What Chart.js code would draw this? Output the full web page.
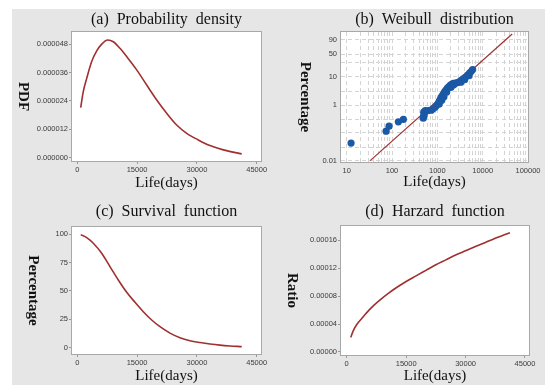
<!DOCTYPE html>
<html>
<head>
<meta charset="utf-8">
<script src="https://cdn.jsdelivr.net/npm/chart.js@4.4.0/dist/chart.umd.min.js"></script>
<style>
body { margin: 0; background: #fff; width: 545px; height: 385px; overflow: hidden; position: relative; }
#bg { position: absolute; left: 12px; top: 9px; width: 533px; height: 376px; background: #e6e6e6; }
canvas { position: absolute; }
</style>
</head>
<body>
<div id="bg"></div>
<canvas id="pdfChart" width="260" height="188" style="left:12px;top:9px"></canvas>
<canvas id="weibullChart" width="273" height="188" style="left:272px;top:9px"></canvas>
<canvas id="survivalChart" width="260" height="188" style="left:12px;top:197px"></canvas>
<canvas id="hazardChart" width="273" height="188" style="left:272px;top:197px"></canvas>
<script>
// values
const lifeTicks = [0, 15000, 30000, 45000];

const pdfDays = [850, 1500, 2360, 3610, 4870, 6120, 7620, 9030, 10710, 12390, 14900, 17410, 19920, 22420, 24930, 27440, 30350, 33280, 36620, 41240];
const pdfValues = [0.0000211, 0.0000279, 0.0000335, 0.0000406, 0.0000451, 0.0000480, 0.0000497, 0.0000490, 0.0000462, 0.0000427, 0.0000371, 0.0000307, 0.0000244, 0.0000188, 0.0000138, 0.0000103, 0.0000075, 0.0000051, 0.0000033, 0.0000016];
const pdfTicks = [0, 0.000012, 0.000024, 0.000036, 0.000048];

const survivalDays = [850, 2360, 4010, 6120, 8200, 10280, 12390, 14470, 16560, 18660, 20740, 23250, 25760, 28270, 30780, 33280, 35790, 38300, 41240];
const survivalPct = [99.5, 96.8, 91.9, 83.1, 71.3, 59.6, 48.8, 40.0, 31.7, 24.4, 18.5, 12.9, 8.8, 6.2, 4.6, 3.3, 2.3, 1.6, 1.0];
const survivalTicks = [0, 25, 50, 75, 100];

const hazardDays = [1010, 1700, 2500, 3800, 5000, 6700, 8500, 10500, 12500, 15000, 17500, 20000, 22500, 25000, 27500, 30000, 32500, 35000, 37500, 41200];
const hazardValues = [0.000021, 0.000031, 0.000039, 0.000048, 0.000056, 0.000066, 0.000075, 0.000084, 0.000092, 0.000101, 0.000109, 0.000117, 0.000125, 0.000132, 0.000139, 0.000145, 0.000151, 0.000157, 0.000163, 0.000171];
const hazardTicks = [0, 0.00004, 0.00008, 0.00012, 0.00016];

// weibull probability plot (failures)
const weibullDays = [12.5, 74, 86, 138, 178, 489, 501, 514, 501, 541, 631, 736, 815, 903, 975, 1052, 1100, 1107, 1166, 1227, 1250, 1292, 1360, 1400, 1432, 1545, 1600, 1667, 1801, 1945, 2000, 2100, 2268, 2300, 2512, 2783, 3080, 3300, 3413, 3784, 4000, 4190, 4642, 5000, 5140, 5546, 6000];
const weibullPct = [0.043, 0.115, 0.174, 0.25, 0.305, 0.34, 0.40, 0.47, 0.56, 0.635, 0.635, 0.66, 0.75, 0.85, 1.0, 1.19, 1.1, 1.4, 1.65, 1.95, 1.5, 2.19, 2.48, 2.0, 2.92, 3.44, 2.9, 4.05, 4.58, 5.18, 4.3, 5.61, 5.95, 5.3, 6.09, 6.33, 6.87, 6.5, 7.74, 8.73, 8.0, 9.84, 11.5, 11.0, 13.5, 15.1, 17.6];
const fitDays = [33, 44800];
const fitPct = [0.01, 97.5];
const weibullXTicks = [10, 100, 1000, 10000, 100000];
const weibullYTicks = [0.01, 1, 10, 50, 90];
const weibullYGrid = [0.01, 0.03, 0.1, 0.3, 1, 3, 10, 30, 50, 90];

const lineRed = '#a0302f';
const dotBlue = '#1b58a5';
const serif = "'Liberation Serif', 'Times New Roman', serif";
const sans = "'Liberation Sans', Arial, sans-serif";
const tickFont = { family: sans, size: 7.5 };
const tickColor = '#3a3a3a';

// white plot area + grey frame
const plotFrame = {
    id: 'plotFrame',
    beforeDraw(chart) {
        const a = chart.chartArea, ctx = chart.ctx;
        ctx.save();
        ctx.fillStyle = '#fff';
        ctx.fillRect(a.left, a.top, a.right - a.left, a.bottom - a.top);
        ctx.restore();
    },
    afterDraw(chart) {
        const a = chart.chartArea, ctx = chart.ctx;
        ctx.save();
        ctx.strokeStyle = '#a8a8a8';
        ctx.lineWidth = 1;
        ctx.strokeRect(Math.round(a.left) - 0.5, Math.round(a.top) - 0.5, Math.round(a.right - a.left) + 1, Math.round(a.bottom - a.top) + 1);
        ctx.restore();
    }
};

// y title reads top to bottom in the original
const yTitleDown = {
    id: 'yTitleDown',
    afterDraw(chart, args, opts) {
        const a = chart.chartArea, ctx = chart.ctx;
        ctx.save();
        ctx.translate(opts.x, (a.top + a.bottom) / 2);
        ctx.rotate(Math.PI / 2);
        ctx.font = 'bold 15px ' + serif;
        ctx.fillStyle = '#111';
        ctx.textAlign = 'center';
        ctx.textBaseline = 'middle';
        ctx.fillText(opts.text, 0, 0);
        ctx.restore();
    }
};

function weibullY(p) {
    return Math.log(-Math.log(1 - p / 100));
}

function makeCurve(id, c) {
    const points = c.xs.map(function (x, i) { return { x: x, y: c.ys[i] }; });
    return new Chart(document.getElementById(id), {
        type: 'line',
        data: {
            datasets: [{
                data: points,
                borderColor: lineRed,
                borderWidth: 1.6,
                pointRadius: 0,
                cubicInterpolationMode: 'monotone',
                fill: false
            }]
        },
        options: {
            responsive: false,
            animation: false,
            layout: { padding: { left: 0, right: c.padRight, top: 0, bottom: 0 } },
            plugins: {
                legend: { display: false },
                tooltip: { enabled: false },
                title: {
                    display: true, text: c.title, fullSize: false, color: '#111',
                    font: { family: serif, size: 16, weight: 'normal' },
                    padding: c.titlePad
                },
                yTitleDown: { text: c.yTitle, x: c.yTitleX }
            },
            scales: {
                x: {
                    type: 'linear', min: c.xMin, max: c.xMax,
                    afterBuildTicks: function (s) { s.ticks = lifeTicks.map(function (v) { return { value: v }; }); },
                    afterFit: function (s) { s.height = c.xHeight; },
                    grid: { display: true, drawOnChartArea: false, drawTicks: true, tickLength: 3, color: '#999' },
                    border: { display: false },
                    ticks: { font: tickFont, color: tickColor, padding: 1, maxRotation: 0, autoSkip: false, callback: function (v) { return String(v); } },
                    title: { display: true, text: 'Life(days)', color: '#111', font: { family: serif, size: 15 }, padding: { top: 0, bottom: c.xTitlePad } }
                },
                y: {
                    type: 'linear', min: c.yMin, max: c.yMax,
                    afterBuildTicks: function (s) { s.ticks = c.yTicks.map(function (v) { return { value: v }; }); },
                    afterFit: function (s) { s.width = c.yWidth; },
                    grid: { display: true, drawOnChartArea: false, drawTicks: true, tickLength: 3, color: '#999' },
                    border: { display: false },
                    ticks: { font: tickFont, color: tickColor, padding: 1, autoSkip: false, callback: function (v) { return v.toFixed(c.digits); } }
                }
            }
        },
        plugins: [plotFrame, yTitleDown]
    });
}

makeCurve('pdfChart', {
    title: '(a)  Probability  density', yTitle: 'PDF', yTitleX: 11,
    xs: pdfDays, ys: pdfValues, yTicks: pdfTicks, digits: 6,
    xMin: -1330, xMax: 46080, yMin: -0.0000014, yMax: 0.0000531,
    padRight: 11, yWidth: 60, xHeight: 36, xTitlePad: 5,
    titlePad: { top: 1.4, bottom: 2.4 }
});

makeCurve('survivalChart', {
    title: '(c)  Survival  function', yTitle: 'Percentage', yTitleX: 21,
    xs: survivalDays, ys: survivalPct, yTicks: survivalTicks, digits: 0,
    xMin: -1330, xMax: 46080, yMin: -5.5, yMax: 106.2,
    padRight: 11, yWidth: 60, xHeight: 31, xTitlePad: 0,
    titlePad: { top: 5.4, bottom: 5.4 }
});

makeCurve('hazardChart', {
    title: '(d)  Harzard  function', yTitle: 'Ratio', yTitleX: 20,
    xs: hazardDays, ys: hazardValues, yTicks: hazardTicks, digits: 5,
    xMin: -1440, xMax: 46010, yMin: -0.0000043, yMax: 0.0001805,
    padRight: 16, yWidth: 69, xHeight: 30, xTitlePad: 0,
    titlePad: { top: 4.9, bottom: 4.9 }
});

// weibull plot
const weibullPoints = weibullDays.map(function (d, i) { return { x: d, y: weibullY(weibullPct[i]) }; });
const fitPoints = fitDays.map(function (d, i) { return { x: d, y: weibullY(fitPct[i]) }; });
const weibullXGrid = [];
weibullXTicks.forEach(function (d) {
    for (let k = 1; k <= 9; k++) {
        if (d * k <= 100000) weibullXGrid.push(d * k);
    }
});

new Chart(document.getElementById('weibullChart'), {
    type: 'scatter',
    data: {
        datasets: [{
            data: weibullPoints,
            backgroundColor: dotBlue,
            borderWidth: 0,
            pointRadius: 3.6
        }, {
            type: 'line',
            data: fitPoints,
            borderColor: lineRed,
            borderWidth: 1.2,
            pointRadius: 0,
            fill: false
        }]
    },
    options: {
        responsive: false,
        animation: false,
        layout: { padding: { left: 0, right: 17, top: 0, bottom: 0 } },
        plugins: {
            legend: { display: false },
            tooltip: { enabled: false },
            title: {
                display: true, text: '(b)  Weibull  distribution', fullSize: false, color: '#111',
                font: { family: serif, size: 16, weight: 'normal' },
                padding: { top: 1.4, bottom: 2.4 }
            },
            yTitleDown: { text: 'Percentage', x: 33 }
        },
        scales: {
            x: {
                type: 'logarithmic', min: 7.49, max: 100000,
                afterBuildTicks: function (s) { s.ticks = weibullXGrid.map(function (v) { return { value: v }; }); },
                afterFit: function (s) { s.height = 35; },
                grid: { color: '#d4d4d4', lineWidth: 1, drawTicks: false },
                border: { display: false, dash: [4, 3] },
                ticks: {
                    font: tickFont, color: tickColor, padding: 4, maxRotation: 0, autoSkip: false,
                    callback: function (v) { return weibullXTicks.includes(v) ? String(v) : ''; }
                },
                title: { display: true, text: 'Life(days)', color: '#111', font: { family: serif, size: 15 }, padding: { top: 0, bottom: 6 } }
            },
            y: {
                type: 'linear', min: -9.327, max: 1.477,
                afterBuildTicks: function (s) { s.ticks = weibullYGrid.map(function (p) { return { value: weibullY(p) }; }); },
                afterFit: function (s) { s.width = 69; },
                grid: { color: '#d4d4d4', lineWidth: 1, drawTicks: false },
                border: { display: false, dash: [4, 3] },
                ticks: {
                    font: tickFont, color: tickColor, padding: 4, autoSkip: false,
                    callback: function (v, i) {
                        const p = weibullYGrid[i];
                        return weibullYTicks.includes(p) ? String(p) : '';
                    }
                }
            }
        }
    },
    plugins: [plotFrame, yTitleDown]
});
</script>
</body>
</html>
